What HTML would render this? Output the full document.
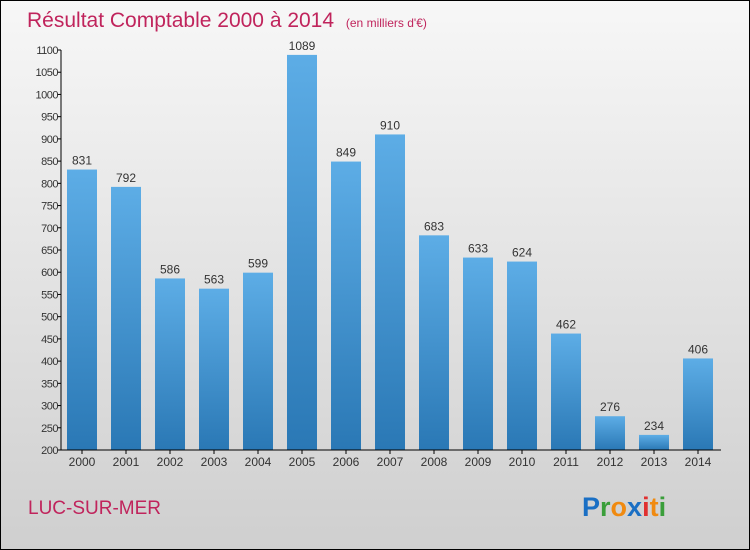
<!DOCTYPE html>
<html><head><meta charset="utf-8"><style>
html,body{margin:0;padding:0;}
body{width:750px;height:550px;overflow:hidden;}
svg{display:block;font-family:"Liberation Sans",sans-serif;}
</style></head><body>
<svg id="c" width="750" height="550" viewBox="0 0 750 550">
<defs>
<linearGradient id="bg" x1="0" y1="0" x2="0" y2="1"><stop offset="0" stop-color="#f7f7f7"/><stop offset="1" stop-color="#cfcfcf"/></linearGradient>
<linearGradient id="bar" x1="0" y1="0" x2="0" y2="1"><stop offset="0" stop-color="#5dade6"/><stop offset="1" stop-color="#2a78b5"/></linearGradient>
</defs>
<rect x="0.5" y="0.5" width="749" height="549" fill="url(#bg)" stroke="#000"/>
<text x="27" y="27" font-size="21" fill="#c0245c">Résultat Comptable 2000 à 2014 <tspan font-size="12" dx="6">(en milliers d'€)</tspan></text>
<g id="ticks"></g>
<g id="bars"></g>
<line x1="61" y1="50" x2="61" y2="450" stroke="#000"/>
<line x1="61" y1="450" x2="721" y2="450" stroke="#000"/>
<text x="28" y="514" font-size="19" fill="#c0245c">LUC-SUR-MER</text>
<text x="582" y="516" font-size="27" font-weight="bold"><tspan fill="#1a6fc4">P</tspan><tspan fill="#3a9e3a">r</tspan><tspan fill="#f08a10">o</tspan><tspan fill="#1a6fc4">x</tspan><tspan fill="#e03030">i</tspan><tspan fill="#f08a10">t</tspan><tspan fill="#3a9e3a">i</tspan></text>
</svg>
<script>
const years=["2000","2001","2002","2003","2004","2005","2006","2007","2008","2009","2010","2011","2012","2013","2014"];
const values=[831,792,586,563,599,1089,849,910,683,633,624,462,276,234,406];
const yTicks=[200,250,300,350,400,450,500,550,600,650,700,750,800,850,900,950,1000,1050,1100];
const NS="http://www.w3.org/2000/svg";
function y(v){return 450-(v-200)*400/900;}
function x(i){return 82+i*44;}
function mk(t,a,p){const e=document.createElementNS(NS,t);for(const k in a)e.setAttribute(k,a[k]);p.appendChild(e);return e;}
const tg=document.getElementById('ticks'),bg=document.getElementById('bars');
yTicks.forEach(v=>{
  const l=mk('line',{x1:57,x2:61,y1:y(v),y2:y(v),stroke:'#000'},tg);
  
  
  const t=mk('text',{x:58,y:y(v)+4,'text-anchor':'end','font-size':11,fill:'#333','letter-spacing':'-0.5'},tg);
  t.textContent=v;
  
  
});
values.forEach((v,i)=>{
  const r=mk('rect',{x:x(i)-15,y:y(v),width:30,height:450-y(v),fill:'url(#bar)'},bg);
  
  
  const t=mk('text',{x:x(i),y:y(v)-5,'text-anchor':'middle','font-size':12,fill:'#333'},bg);
  t.textContent=v;
  
  
  const k=mk('line',{x1:x(i),x2:x(i),y1:450,y2:454,stroke:'#000'},bg);
  
  
  const xl=mk('text',{x:x(i),y:466,'text-anchor':'middle','font-size':12,fill:'#333'},bg);
  xl.textContent=years[i];
  
  
});
</script>
</body></html>
